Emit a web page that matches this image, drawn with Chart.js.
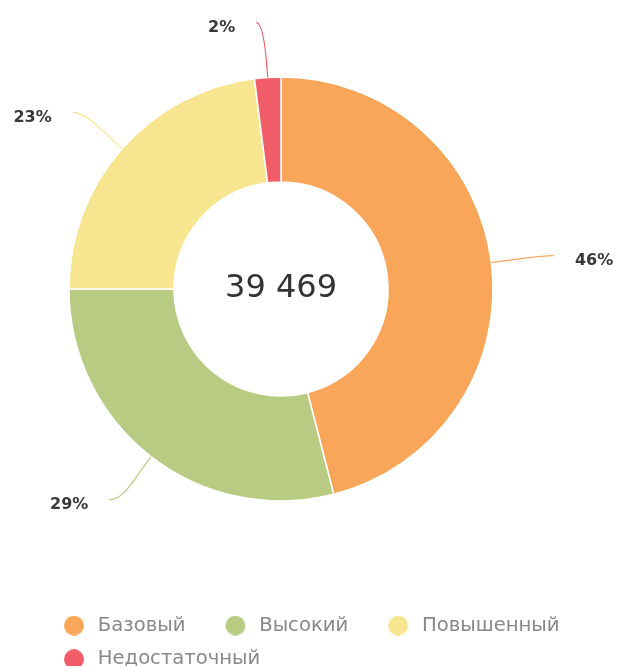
<!DOCTYPE html>
<html>
<head>
<meta charset="utf-8">
<script src="https://cdn.jsdelivr.net/npm/chart.js@4/dist/chart.umd.min.js"></script>
<style>
  html, body { margin: 0; padding: 0; background: #fff; overflow: hidden; }
  .chartPerformanceContainer { position: relative; width: 618px; height: 679px; }
</style>
</head>
<body>
<div class="chartPerformanceContainer">
  <canvas id="levelChart"></canvas>
</div>
<script>
const levelNames = ["Базовый", "Высокий", "Повышенный", "Недостаточный"];
const levelCounts = [18156, 11446, 9078, 789];
const levelColors = ["#F9A65A", "#B9CB82", "#F7E68F", "#F15C69"];

const RING_X = 281;
const RING_Y = 289;
const fontName = "DejaVu Sans";

// legend marker: circle sitting at the right of a wide transparent box,
// the empty part gives the gap between legend items
function legendDot(color) {
  const c = document.createElement("canvas");
  c.width = 50;
  c.height = 20;
  const g = c.getContext("2d");
  g.fillStyle = color;
  g.beginPath();
  g.arc(36, 10, 10, 0, Math.PI * 2);
  g.fill();
  return c;
}

function groupDigits(n) {
  return String(n).replace(/\B(?=(\d{3})+(?!\d))/g, " ");
}

// the ring is not centred over the legend, so move the area it is drawn in
const ringArea = {
  id: "ringArea",
  afterLayout(chart) {
    const a = chart.chartArea;
    a.right = 2 * RING_X - a.left;
    a.bottom = 2 * RING_Y - a.top;
    a.width = a.right - a.left;
    a.height = a.bottom - a.top;
  },
};

const centerTotal = {
  id: "centerTotal",
  afterDatasetsDraw(chart) {
    const { ctx } = chart;
    const arc = chart.getDatasetMeta(0).data[0];
    if (!arc) return;
    const total = levelCounts.reduce((a, b) => a + b, 0);
    ctx.save();
    ctx.font = "32px " + fontName;
    ctx.fillStyle = "#333";
    ctx.textAlign = "center";
    ctx.textBaseline = "middle";
    ctx.fillText(groupDigits(total), arc.x, arc.y);
    ctx.restore();
  },
};

const sliceLabels = {
  id: "sliceLabels",
  afterDatasetsDraw(chart) {
    const { ctx } = chart;
    const meta = chart.getDatasetMeta(0);
    const total = levelCounts.reduce((a, b) => a + b, 0);
    ctx.save();
    meta.data.forEach((arc, i) => {
      const { x, y, startAngle, endAngle, outerRadius } = arc.getProps(
        ["x", "y", "startAngle", "endAngle", "outerRadius"], true);
      const mid = (startAngle + endAngle) / 2;
      const cos = Math.cos(mid);
      const sin = Math.sin(mid);
      const side = cos >= 0 ? 1 : -1;
      const x0 = x + cos * outerRadius;
      const y0 = y + sin * outerRadius;
      const x1 = x + cos * (outerRadius + 55) + side * 8;
      const y1 = y + sin * (outerRadius + 55);
      const k2 = Math.min(15, Math.abs(x1 - x0) * 0.6);

      ctx.strokeStyle = levelColors[i];
      ctx.lineWidth = 1.2;
      ctx.beginPath();
      ctx.moveTo(x0, y0);
      ctx.bezierCurveTo(x0 + cos * 25, y0 + sin * 25, x1 - side * k2, y1, x1, y1);
      ctx.stroke();

      ctx.font = "bold 16px " + fontName;
      ctx.fillStyle = "#383838";
      ctx.textAlign = side > 0 ? "left" : "right";
      ctx.textBaseline = "middle";
      ctx.fillText(Math.round(levelCounts[i] / total * 100) + "%", x1 + side * 21, y1 + 5);
    });
    ctx.restore();
  },
};

new Chart(document.getElementById("levelChart"), {
  type: "doughnut",
  data: {
    labels: levelNames,
    datasets: [
      {
        data: levelCounts,
        backgroundColor: levelColors,
        borderColor: "#fff",
        borderWidth: 1.5,
        hoverOffset: 0,
      },
    ],
  },
  options: {
    responsive: true,
    maintainAspectRatio: false,
    animation: false,
    radius: 212,
    cutout: "50.5%",
    layout: { padding: { left: 24, right: 0, top: 0, bottom: 0 } },
    plugins: {
      tooltip: { enabled: false },
      legend: {
        position: "bottom",
        align: "start",
        labels: {
          usePointStyle: true,
          pointStyleWidth: 50,
          padding: 14,
          color: "#888",
          font: { family: fontName, size: 19.6 },
          generateLabels(chart) {
            const base = Chart.overrides.doughnut.plugins.legend.labels.generateLabels(chart);
            return base.map((item) => ({ ...item, pointStyle: legendDot(item.fillStyle) }));
          },
        },
      },
    },
  },
  plugins: [ringArea, centerTotal, sliceLabels],
});
</script>
</body>
</html>
